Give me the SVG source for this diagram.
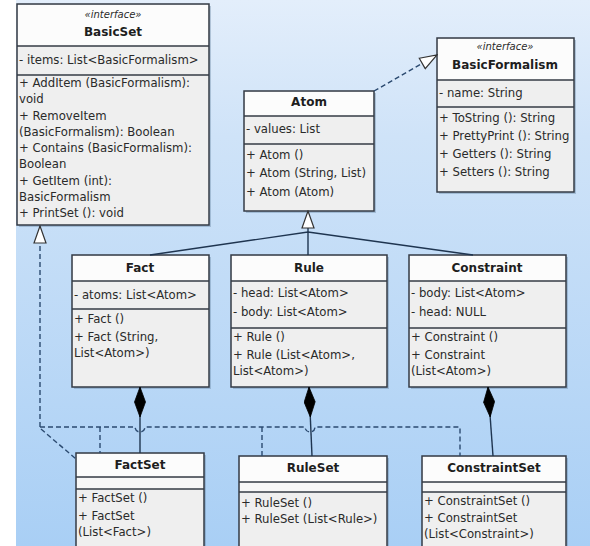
<svg xmlns="http://www.w3.org/2000/svg" width="590" height="546" viewBox="0 0 590 546">
<defs>
<linearGradient id="bg" x1="0" y1="0" x2="0" y2="1">
<stop offset="0" stop-color="#e3eefb"/>
<stop offset="0.25" stop-color="#cfe3f8"/>
<stop offset="1" stop-color="#a9cff5"/>
</linearGradient>
<marker id="tri" markerUnits="userSpaceOnUse" markerWidth="19" markerHeight="14" viewBox="0 0 19 14" refX="18" refY="7" orient="auto">
<path d="M1,1 L18,7 L1,13 Z" fill="#ffffff" stroke="#333333" stroke-width="1.2" stroke-dasharray="none"/>
</marker>
<marker id="dia" markerUnits="userSpaceOnUse" markerWidth="31" markerHeight="12" viewBox="0 0 31 12" refX="30" refY="6" orient="auto">
<path d="M0,6 L15,0.5 L30,6 L15,11.5 Z" fill="#000000" stroke="#000000" stroke-width="0.8" stroke-dasharray="none"/>
</marker>
<style>
text{font-family:"DejaVu Sans","Liberation Sans",sans-serif;fill:#2a2a2a}
.t{font-size:11.7px}
.b{font-size:12px;font-weight:bold;text-anchor:middle;fill:#1e1e1e}
.s{font-size:10px;font-style:italic;text-anchor:middle}
.box{fill:#efefef;stroke:#353b45;stroke-width:1.5}
.hd{fill:#fcfcfc;stroke:none}
.sep{stroke:#353b45;stroke-width:1.3}
.sh{fill:#5a7896;opacity:0.35}
.solid{fill:none;stroke:#1f3550;stroke-width:1.4}
.dash{fill:none;stroke:#2b4a70;stroke-width:1.4;stroke-dasharray:5,3}
</style>
</defs>
<rect x="0" y="0" width="590" height="546" fill="#ffffff"/>
<rect x="16" y="0" width="574" height="546" fill="url(#bg)"/>

<g id="BasicSet">
<rect class="sh" x="19" y="6" width="192" height="221"/>
<rect class="box" x="17" y="4" width="192" height="221"/>
<rect class="hd" x="18" y="5" width="190" height="41"/>
<line class="sep" x1="17" y1="46" x2="209" y2="46"/>
<line class="sep" x1="17" y1="75" x2="209" y2="75"/>
<text class="s" x="113" y="18">«interface»</text>
<text class="b" x="113" y="36">BasicSet</text>
<text class="t" x="19" y="64">- items: List&lt;BasicFormalism&gt;</text>
<text class="t" x="19" y="87">+ AddItem (BasicFormalism):</text>
<text class="t" x="19" y="103">void</text>
<text class="t" x="19" y="120">+ RemoveItem</text>
<text class="t" x="19" y="136">(BasicFormalism): Boolean</text>
<text class="t" x="19" y="152">+ Contains (BasicFormalism):</text>
<text class="t" x="19" y="168">Boolean</text>
<text class="t" x="19" y="185">+ GetItem (int):</text>
<text class="t" x="19" y="201">BasicFormalism</text>
<text class="t" x="19" y="217">+ PrintSet (): void</text>
</g>

<g id="BasicFormalism">
<rect class="sh" x="439" y="40" width="137" height="154"/>
<rect class="box" x="437" y="38" width="137" height="154"/>
<rect class="hd" x="438" y="39" width="135" height="41"/>
<line class="sep" x1="437" y1="80" x2="574" y2="80"/>
<line class="sep" x1="437" y1="107" x2="574" y2="107"/>
<text class="s" x="505" y="50">«interface»</text>
<text class="b" x="505" y="69">BasicFormalism</text>
<text class="t" x="439" y="97">- name: String</text>
<text class="t" x="439" y="122">+ ToString (): String</text>
<text class="t" x="439" y="140">+ PrettyPrint (): String</text>
<text class="t" x="439" y="158">+ Getters (): String</text>
<text class="t" x="439" y="176">+ Setters (): String</text>
</g>

<g id="Atom">
<rect class="sh" x="246" y="93" width="130" height="120"/>
<rect class="box" x="244" y="91" width="130" height="120"/>
<rect class="hd" x="245" y="92" width="128" height="24"/>
<line class="sep" x1="244" y1="116" x2="374" y2="116"/>
<line class="sep" x1="244" y1="144" x2="374" y2="144"/>
<text class="b" x="309" y="106">Atom</text>
<text class="t" x="246" y="133">- values: List</text>
<text class="t" x="246" y="159">+ Atom ()</text>
<text class="t" x="246" y="177">+ Atom (String, List)</text>
<text class="t" x="246" y="196">+ Atom (Atom)</text>
</g>

<g id="Fact">
<rect class="sh" x="74" y="257" width="137" height="132"/>
<rect class="box" x="72" y="255" width="137" height="132"/>
<rect class="hd" x="73" y="256" width="135" height="25"/>
<line class="sep" x1="72" y1="281" x2="209" y2="281"/>
<line class="sep" x1="72" y1="309" x2="209" y2="309"/>
<text class="b" x="140" y="272">Fact</text>
<text class="t" x="74" y="299">- atoms: List&lt;Atom&gt;</text>
<text class="t" x="74" y="323">+ Fact ()</text>
<text class="t" x="74" y="341">+ Fact (String,</text>
<text class="t" x="74" y="357">List&lt;Atom&gt;)</text>
</g>

<g id="Rule">
<rect class="sh" x="233" y="257" width="156" height="132"/>
<rect class="box" x="231" y="255" width="156" height="132"/>
<rect class="hd" x="232" y="256" width="154" height="25"/>
<line class="sep" x1="231" y1="281" x2="387" y2="281"/>
<line class="sep" x1="231" y1="328" x2="387" y2="328"/>
<text class="b" x="309" y="272">Rule</text>
<text class="t" x="233" y="297">- head: List&lt;Atom&gt;</text>
<text class="t" x="233" y="316">- body: List&lt;Atom&gt;</text>
<text class="t" x="233" y="341">+ Rule ()</text>
<text class="t" x="233" y="359">+ Rule (List&lt;Atom&gt;,</text>
<text class="t" x="233" y="375">List&lt;Atom&gt;)</text>
</g>

<g id="Constraint">
<rect class="sh" x="411" y="257" width="157" height="132"/>
<rect class="box" x="409" y="255" width="157" height="132"/>
<rect class="hd" x="410" y="256" width="155" height="25"/>
<line class="sep" x1="409" y1="281" x2="566" y2="281"/>
<line class="sep" x1="409" y1="328" x2="566" y2="328"/>
<text class="b" x="487" y="272">Constraint</text>
<text class="t" x="411" y="297">- body: List&lt;Atom&gt;</text>
<text class="t" x="411" y="316">- head: NULL</text>
<text class="t" x="411" y="341">+ Constraint ()</text>
<text class="t" x="411" y="359">+ Constraint</text>
<text class="t" x="411" y="375">(List&lt;Atom&gt;)</text>
</g>

<g id="FactSet">
<rect class="sh" x="78" y="455" width="128" height="100"/>
<rect class="box" x="76" y="453" width="128" height="100"/>
<rect class="hd" x="77" y="454" width="126" height="23"/>
<rect x="77" y="478" width="126" height="11" fill="#f7f7f7"/>
<line class="sep" x1="76" y1="477" x2="204" y2="477"/>
<line class="sep" x1="76" y1="489" x2="204" y2="489"/>
<text class="b" x="140" y="469">FactSet</text>
<text class="t" x="78" y="502">+ FactSet ()</text>
<text class="t" x="78" y="520">+ FactSet</text>
<text class="t" x="78" y="536">(List&lt;Fact&gt;)</text>
</g>

<g id="RuleSet">
<rect class="sh" x="241" y="458" width="148" height="100"/>
<rect class="box" x="239" y="456" width="148" height="100"/>
<rect class="hd" x="240" y="457" width="146" height="25"/>
<rect x="240" y="483" width="146" height="9" fill="#f7f7f7"/>
<line class="sep" x1="239" y1="482" x2="387" y2="482"/>
<line class="sep" x1="239" y1="492" x2="387" y2="492"/>
<text class="b" x="313" y="472">RuleSet</text>
<text class="t" x="241" y="507">+ RuleSet ()</text>
<text class="t" x="241" y="523">+ RuleSet (List&lt;Rule&gt;)</text>
</g>

<g id="ConstraintSet">
<rect class="sh" x="424" y="458" width="144" height="100"/>
<rect class="box" x="422" y="456" width="144" height="100"/>
<rect class="hd" x="423" y="457" width="142" height="25"/>
<rect x="423" y="483" width="142" height="9" fill="#f7f7f7"/>
<line class="sep" x1="422" y1="482" x2="566" y2="482"/>
<line class="sep" x1="422" y1="492" x2="566" y2="492"/>
<text class="b" x="494" y="472">ConstraintSet</text>
<text class="t" x="424" y="505">+ ConstraintSet ()</text>
<text class="t" x="424" y="522">+ ConstraintSet</text>
<text class="t" x="424" y="538">(List&lt;Constraint&gt;)</text>
</g>

<g id="connectors">
<line class="dash" x1="374" y1="91" x2="437" y2="55" marker-end="url(#tri)"/>
<path class="solid" d="M150,255 L308,232 L473,255 M308,255 L308,232"/>
<line class="solid" x1="308" y1="232" x2="308" y2="211" marker-end="url(#tri)"/>
<line class="dash" x1="40" y1="427" x2="40" y2="226" marker-end="url(#tri)"/>
<path class="dash" d="M40,427 L135,427 A5,5 0 0 0 145,427 L305,427 A5,5 0 0 0 315,427 L460,427 L460,456"/>
<path class="dash" d="M100,427 L100,453 M262,427 L262,456 M41,429 L76,459"/>
<line class="solid" x1="140" y1="453" x2="140" y2="387" marker-end="url(#dia)"/>
<line class="solid" x1="312" y1="456" x2="309" y2="387" marker-end="url(#dia)"/>
<line class="solid" x1="493" y1="456" x2="488" y2="387" marker-end="url(#dia)"/>
</g>
</svg>
